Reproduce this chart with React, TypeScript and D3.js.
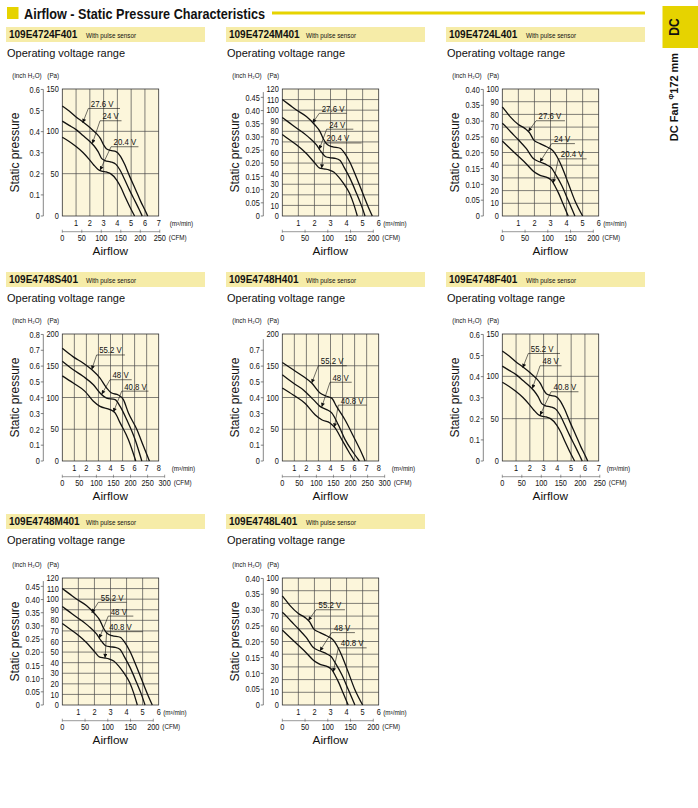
import React from 'react';
import * as d3 from 'd3';

type Pt = [number, number];
const FONT = '"Liberation Sans", Arial, Helvetica, sans-serif';
const PA_PER_INCH = 249.089;
const M3_PER_CFM = 0.0283168;

// ---- voltage labels ----
const volts24 = ['27.6 V', '24 V', '20.4 V'];
const volts48 = ['55.2 V', '48 V', '40.8 V'];

// ---- curves (x: m³/min, y: Pa) ----
const fHi: Pt[] = [[0,130],[0.5,124],[1,117],[1.5,111],[2,104.5],[2.5,97],[2.75,92],[3.0,84],[3.2,79.5],[3.5,77.5],[3.9,76],[4.2,71],[4.5,62],[4.9,46.5],[5.3,32],[5.7,17],[6.0,7],[6.2,0]];
const fMid: Pt[] = [[0,112],[0.5,107],[1,102],[1.5,95],[2,88],[2.3,83],[2.6,76],[2.85,68],[3.1,65.5],[3.5,64],[3.9,61],[4.2,54],[4.5,44],[4.9,30],[5.3,17],[5.6,7],[5.8,0]];
const fLo: Pt[] = [[0,93],[0.5,88],[1,82],[1.5,75],[2,66],[2.3,60],[2.6,55],[2.85,53],[3.2,52],[3.5,50],[3.95,42.5],[4.25,34],[4.55,23],[4.9,11],[5.25,0]];

const mHi: Pt[] = [[0,110],[0.45,105],[0.9,100],[1.5,94],[2.03,86],[2.34,80],[2.55,73],[2.8,67.5],[3.1,65.5],[3.6,64],[3.9,59],[4.2,51],[4.52,40],[4.94,24],[5.35,8.5],[5.6,0]];
const mMid: Pt[] = [[0,93],[0.45,88],[0.9,83],[1.6,75],[2.14,67],[2.4,61],[2.7,56],[3.0,55],[3.3,54.5],[3.6,52.5],[3.85,46],[4.2,36],[4.63,21],[4.9,11],[5.15,0]];
const mLo: Pt[] = [[0,77],[0.45,72],[0.9,67],[1.5,59],[2.03,50],[2.3,45.5],[2.6,44.5],[2.9,43.5],[3.2,41.5],[3.5,37],[3.8,31],[4.2,21],[4.45,11],[4.67,0]];

const lHi: Pt[] = [[0,86],[0.25,82],[0.5,78],[1,72],[1.4,69],[1.7,65.5],[1.95,60],[2.35,57],[2.75,54.5],[3.05,52.5],[3.3,49],[3.5,44.5],[3.7,39],[4.1,26],[4.52,12],[5.0,0]];
const lMid: Pt[] = [[0,73],[0.25,70],[0.5,66.5],[1,60],[1.5,53],[1.95,45],[2.35,42.5],[2.8,40],[3.05,38],[3.3,33],[3.7,24],[4.1,12.4],[4.52,0]];
const lLo: Pt[] = [[0,59],[0.5,53],[1,47],[1.5,41],[1.95,35],[2.35,32],[2.85,30],[3.07,28],[3.3,23],[3.5,18],[3.8,9],[4.1,0]];

const sHi: Pt[] = [[0,177.5],[0.91,164],[1.75,154],[2.44,144],[3.13,130.5],[3.68,115],[4.1,107],[4.65,104],[5.07,96.6],[5.48,76],[6.18,50],[6.73,23.5],[7.23,0]];
const sMid: Pt[] = [[0,157],[0.91,143.6],[1.75,133],[2.58,120],[3.13,107],[3.68,99],[4.38,96.6],[4.8,86],[5.35,65],[6.04,34],[6.6,0]];
const sLo: Pt[] = [[0,134],[0.91,122.7],[1.88,109.7],[2.58,94],[3.13,86],[3.96,81],[4.38,75.7],[4.8,60],[5.48,34],[6.1,0]];

const hHi: Pt[] = [[0,155],[0.91,143.6],[1.75,133],[2.44,122.7],[3.13,107],[3.68,102],[4.1,99],[4.5,86],[5.2,65],[5.9,39],[6.45,18],[6.87,0]];
const hMid: Pt[] = [[0,135.8],[0.91,122.7],[1.75,112],[2.58,96.6],[3.13,86],[3.68,81],[4.1,75.7],[4.65,57],[5.2,34],[5.9,13],[6.4,0]];
const hLo: Pt[] = [[0,115],[0.91,104],[1.88,91],[2.72,73],[3.27,65],[3.96,60],[4.38,52],[4.93,34],[5.48,15.7],[5.98,0]];

// ---- annotation anchors: [underline start x, underline end x, underline Pa, arrow x, arrow Pa] ----
const labF = [[1.89,4.19,127,1.48,110],[2.74,4.3,112.5,2.18,85.5],[3.54,5.53,81.8,2.74,54]];
const labM = [[2.3,4.0,97,1.89,88],[2.76,4.42,82,2.3,63],[2.6,4.94,69,2.45,45]];
const labL = [[2.1,3.9,75,1.62,66.5],[3.07,4.52,57,2.34,42.5],[3.49,5.25,45,3.17,26]];
const labS = [[2.85,5.2,167,2.44,144],[3.96,5.76,128,3.27,105],[4.93,7.15,110,4.24,77]];
const labH = [[2.99,5.35,150,2.44,122.7],[3.96,5.76,124,3.27,85],[4.65,7.0,88,4.32,53]];
const labM48 = [[2.24,4.0,97,1.83,87],[2.86,4.42,84,2.3,63],[2.76,5.0,69.3,2.66,44.5]];

// ---- axis ticks ----
const flow7 = [1,2,3,4,5,6,7];
const flow6 = [1,2,3,4,5,6];
const flow8 = [1,2,3,4,5,6,7,8];
const pa150 = [0,50,100,150];
const pa120 = [0,10,20,30,40,50,60,70,80,90,100,110,120];
const pa100 = [0,10,20,30,40,50,60,70,80,90,100];
const pa200 = [0,50,100,150,200];
const inch06 = [0,0.1,0.2,0.3,0.4,0.5,0.6];
const inch045 = [0,0.05,0.10,0.15,0.20,0.25,0.30,0.35,0.40,0.45];
const inch040 = [0,0.05,0.10,0.15,0.20,0.25,0.30,0.35,0.40];
const inch08 = [0,0.1,0.2,0.3,0.4,0.5,0.6,0.7,0.8];
const inch07 = [0,0.1,0.2,0.3,0.4,0.5,0.6,0.7];
const cfm250 = [0,50,100,150,200,250];
const cfm200 = [0,50,100,150,200];
const cfm300 = [0,50,100,150,200,250,300];
const grid150 = [50,100];
const grid120 = [10,20,30,40,50,60,70,80,90,100,110];
const grid100 = [10,20,30,40,50,60,70,80,90];
const grid200 = [50,100,150];

const models = ['109E4724F401','109E4724M401','109E4724L401','109E4748S401','109E4748H401','109E4748F401','109E4748M401','109E4748L401'];

type Spec = {
  model: string; col: number; row: number; volts: string[]; curves: Pt[][];
  xMax: number; flowTicks: number[]; paMax: number; paTicks: number[];
  inchTicks: number[]; inchDec: number; inchTop: number; cfmTicks: number[]; hGrid: number[];
  labels: number[][]; m3Off: number;
};

const specs: Spec[] = [
  { model: models[0], col: 0, row: 0, volts: volts24, curves: [fHi, fMid, fLo], xMax: 7, flowTicks: flow7, paMax: 150, paTicks: pa150, inchTicks: inch06, inchDec: 1, inchTop: 0.6, cfmTicks: cfm250, hGrid: grid150, labels: labF, m3Off: 11 },
  { model: models[1], col: 1, row: 0, volts: volts24, curves: [mHi, mMid, mLo], xMax: 6, flowTicks: flow6, paMax: 120, paTicks: pa120, inchTicks: inch045, inchDec: 2, inchTop: 0.47, cfmTicks: cfm200, hGrid: grid120, labels: labM, m3Off: 4.5 },
  { model: models[2], col: 2, row: 0, volts: volts24, curves: [lHi, lMid, lLo], xMax: 6, flowTicks: flow6, paMax: 100, paTicks: pa100, inchTicks: inch040, inchDec: 2, inchTop: 0.4, cfmTicks: cfm200, hGrid: grid100, labels: labL, m3Off: 4.5 },
  { model: models[3], col: 0, row: 1, volts: volts48, curves: [sHi, sMid, sLo], xMax: 8, flowTicks: flow8, paMax: 200, paTicks: pa200, inchTicks: inch08, inchDec: 1, inchTop: 0.8, cfmTicks: cfm300, hGrid: grid200, labels: labS, m3Off: 13 },
  { model: models[4], col: 1, row: 1, volts: volts48, curves: [hHi, hMid, hLo], xMax: 8, flowTicks: flow8, paMax: 200, paTicks: pa200, inchTicks: inch07, inchDec: 1, inchTop: 0.77, cfmTicks: cfm300, hGrid: grid200, labels: labH, m3Off: 13 },
  { model: models[5], col: 2, row: 1, volts: volts48, curves: [fHi, fMid, fLo], xMax: 7, flowTicks: flow7, paMax: 150, paTicks: pa150, inchTicks: inch06, inchDec: 1, inchTop: 0.6, cfmTicks: cfm250, hGrid: grid150, labels: labF, m3Off: 8 },
  { model: models[6], col: 0, row: 2, volts: volts48, curves: [mHi, mMid, mLo], xMax: 6, flowTicks: flow6, paMax: 120, paTicks: pa120, inchTicks: inch045, inchDec: 2, inchTop: 0.47, cfmTicks: cfm200, hGrid: grid120, labels: labM48, m3Off: 4.5 },
  { model: models[7], col: 1, row: 2, volts: volts48, curves: [lHi, lMid, lLo], xMax: 6, flowTicks: flow6, paMax: 100, paTicks: pa100, inchTicks: inch040, inchDec: 2, inchTop: 0.4, cfmTicks: cfm200, hGrid: grid100, labels: labL, m3Off: 4.5 },
];

// ---- layout ----
const COL_LEFT = [62.3, 282.3, 502.3];
const ROW_TOP = [89, 334, 578];
const HEAD_TOP = [27, 272, 514];
const BAR_X = [6, 226, 446];
const PW = 96.4;
const PH = 127;

const YELLOW = '#e6d300';
const BAR = '#f6eca8';
const PLOT_BG = '#fcf6db';
const GRID = '#4a4a4a';

function CText(props: { x: number; y: number; sx?: number; anchor?: string; size?: number; weight?: string; rotate?: number; children: React.ReactNode; dy?: string }) {
  const { x, y, sx = 0.82, anchor = 'start', size = 9, weight = 'normal', rotate = 0, children, dy } = props;
  return (
    <text transform={`translate(${x},${y}) rotate(${rotate}) scale(${sx},1)`} textAnchor={anchor as any} fontSize={size} fontWeight={weight} dy={dy} fill="#111">
      {children}
    </text>
  );
}

function Chart({ spec }: { spec: Spec }) {
  const L = COL_LEFT[spec.col];
  const T = ROW_TOP[spec.row];
  const B = T + PH;
  const R = L + PW;
  const x = d3.scaleLinear().domain([0, spec.xMax]).range([L, R]);
  const y = d3.scaleLinear().domain([0, spec.paMax]).range([B, T]);
  const line = d3.line<Pt>().x(d => x(d[0])).y(d => y(d[1])).curve(d3.curveMonotoneX);
  const hx = BAR_X[spec.col];
  const hy = HEAD_TOP[spec.row];
  const cfmX = (c: number) => x(c * M3_PER_CFM);
  const cfmMax = spec.cfmTicks[spec.cfmTicks.length - 1];
  const cfmY = B + 15.7;
  const inchX = L - 19;
  const vGrid = spec.flowTicks.filter(v => v < spec.xMax);
  return (
    <g>
      <rect x={hx} y={hy} width={199} height={15} fill={BAR} />
      <text x={hx + 3} y={hy + 11} fontSize={10} fontWeight="bold" fill="#111">{spec.model}</text>
      <text x={hx + 80} y={hy + 10.5} fontSize={6.3} fill="#111">With pulse sensor</text>
      <text x={hx + 1} y={hy + 30} fontSize={11} fill="#111">Operating voltage range</text>

      <rect x={L} y={T} width={PW} height={PH} fill={PLOT_BG} />
      {vGrid.map(v => (
        <line key={'v' + v} x1={x(v)} x2={x(v)} y1={T} y2={B} stroke={GRID} strokeWidth={0.7} />
      ))}
      {spec.hGrid.map(v => (
        <line key={'h' + v} x1={L} x2={R} y1={y(v)} y2={y(v)} stroke={GRID} strokeWidth={0.7} />
      ))}
      <rect x={L} y={T} width={PW} height={PH} fill="none" stroke="#333" strokeWidth={0.8} />

      {spec.curves.map((c, i) => (
        <path key={'c' + i} d={line(c) || ''} fill="none" stroke="#111" strokeWidth={1.3} />
      ))}

      {spec.labels.map((lb, i) => {
        const [u0, u1, uy, tx, ty] = lb;
        return (
          <g key={'l' + i}>
            <line x1={x(u0)} x2={x(u1)} y1={y(uy)} y2={y(uy)} stroke="#111" strokeWidth={0.6} />
            <line x1={x(u0)} y1={y(uy)} x2={x(tx)} y2={y(ty)} stroke="#111" strokeWidth={0.6} markerEnd="url(#arrow)" />
            <CText x={x(u0) + 2.5} y={y(uy) - 1.6} size={9.8} sx={0.8}>{spec.volts[i]}</CText>
          </g>
        );
      })}

      {/* Pa axis labels */}
      {spec.paTicks.map(v => (
        <CText key={'p' + v} x={L - 3.5} y={y(v)} dy="0.35em" anchor="end" size={9}>{String(v)}</CText>
      ))}
      {/* inch axis */}
      <line x1={inchX} x2={inchX} y1={B} y2={y(spec.inchTop * PA_PER_INCH)} stroke="#333" strokeWidth={0.6} />
      {spec.inchTicks.map(v => (
        <g key={'i' + v}>
          <line x1={inchX - 2.5} x2={inchX} y1={y(v * PA_PER_INCH)} y2={y(v * PA_PER_INCH)} stroke="#333" strokeWidth={0.6} />
          <CText x={inchX - 3.5} y={y(v * PA_PER_INCH)} dy="0.35em" anchor="end" size={9}>{v === 0 ? '0' : v.toFixed(spec.inchDec)}</CText>
        </g>
      ))}
      <text x={L - 50} y={T - 11} fontSize={6.3} fill="#111">(inch H₂O)</text>
      <text x={L - 15} y={T - 11} fontSize={6.3} fill="#111">(Pa)</text>
      <CText x={L - 43} y={(T + B) / 2} rotate={-90} anchor="middle" size={12} sx={1}>Static pressure</CText>

      {/* flow axis */}
      {spec.flowTicks.map(v => (
        <CText key={'f' + v} x={x(v)} y={B + 10} anchor="middle" size={9}>{String(v)}</CText>
      ))}
      <text x={R + spec.m3Off} y={B + 9.5} fontSize={6.3} fill="#111">(m³/min)</text>
      <line x1={L} x2={cfmX(cfmMax)} y1={cfmY} y2={cfmY} stroke="#555" strokeWidth={0.6} />
      {spec.cfmTicks.map(v => (
        <g key={'cf' + v}>
          <line x1={cfmX(v)} x2={cfmX(v)} y1={cfmY - 2} y2={cfmY + 1} stroke="#555" strokeWidth={0.6} />
          <CText x={cfmX(v)} y={B + 24.5} anchor="middle" size={9}>{String(v)}</CText>
        </g>
      ))}
      <text x={cfmX(cfmMax) + 9} y={B + 24} fontSize={6.3} fill="#111">(CFM)</text>
      <CText x={L + 48} y={B + 38.5} anchor="middle" size={11.8} sx={1}>Airflow</CText>
    </g>
  );
}

export default function App() {
  return (
    <svg width={698} height={808} style={{ position: 'absolute', left: 0, top: 0, background: '#fff' }} fontFamily={FONT}>
      <defs>
        <marker id="arrow" viewBox="0 0 6 6" refX={6} refY={3} markerWidth={5} markerHeight={4} markerUnits="userSpaceOnUse" orient="auto">
          <path d="M0,0L6,3L0,6z" fill="#111" />
        </marker>
      </defs>
      <rect x={0} y={0} width={698} height={808} fill="#fff" />
      {/* title */}
      <rect x={7} y={7} width={11.5} height={12} fill={YELLOW} />
      <text x={24} y={18.5} fontSize={14.5} fontWeight="bold" fill="#111" textLength={241} lengthAdjust="spacingAndGlyphs">Airflow - Static Pressure Characteristics</text>
      <line x1={272} x2={645} y1={13} y2={13} stroke={YELLOW} strokeWidth={3} />
      {/* side tab */}
      <rect x={662.5} y={6} width={36} height={42} fill={YELLOW} />
      <CText x={679} y={27} rotate={-90} anchor="middle" size={15} weight="bold" sx={0.8}>DC</CText>
      <text transform="translate(678,97) rotate(-90)" textAnchor="middle" fontSize={11} fontWeight="bold" fill="#111">
        DC Fan <tspan fontSize={7} dy={-4}>Φ</tspan><tspan dy={4}>172 mm</tspan>
      </text>
      {specs.map(s => <Chart key={s.model} spec={s} />)}
    </svg>
  );
}
